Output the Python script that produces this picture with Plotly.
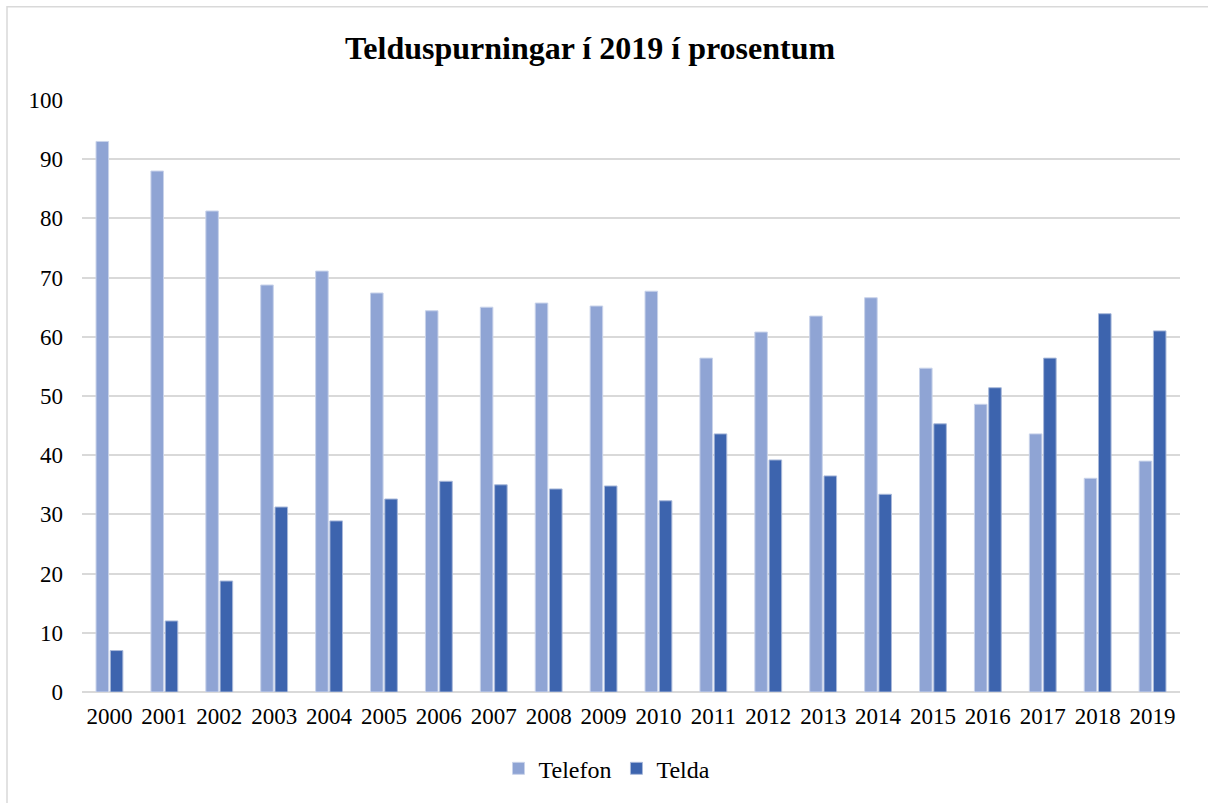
import plotly.graph_objects as go

years = [str(y) for y in range(2000, 2020)]
telefon = [93.0, 88.0, 81.25, 68.75, 71.1, 67.4, 64.4, 65.0, 65.7, 65.2,
           67.7, 56.4, 60.8, 63.5, 66.6, 54.7, 48.6, 43.6, 36.1, 39.0]
telda = [7.0, 12.0, 18.75, 31.25, 28.9, 32.6, 35.6, 35.0, 34.3, 34.8,
         32.3, 43.6, 39.2, 36.5, 33.4, 45.3, 51.4, 56.4, 63.9, 61.0]
y_ticks = list(range(0, 101, 10))

FONT = "Liberation Serif, Times New Roman, serif"

fig = go.Figure()
fig.add_trace(go.Bar(name="Telefon", x=years, y=telefon,
                     marker=dict(color="#8FA4D4", line=dict(color="#C9D3EA", width=1))))
fig.add_trace(go.Bar(name="Telda", x=years, y=telda,
                     marker=dict(color="#3D64AE", line=dict(color="#A9B9DA", width=1))))

W, H = 1208, 803
L, R, T, B = 82, 28, 100, 109
pw, ph = W - L - R, H - T - B

fig.update_layout(
    width=W, height=H,
    margin=dict(l=L, r=R, t=T, b=B),
    paper_bgcolor="white", plot_bgcolor="white",
    barmode="group", bargap=0.48, bargroupgap=0.12,
    font=dict(family=FONT, size=23, color="black"),
    title=dict(text="<b>Telduspurningar í 2019 í prosentum</b>",
               x=(590 - L) / pw, xanchor="center", y=1 - 48 / H, yanchor="middle",
               xref="paper",
               font=dict(family=FONT, size=32, color="black")),
    xaxis=dict(showgrid=False, showline=False, ticks="", ticklabelstandoff=8,
               tickfont=dict(size=23)),
    yaxis=dict(range=[0, 100], tickvals=y_ticks, showgrid=True,
               gridcolor="#D9D9D9", gridwidth=1.5, zeroline=True,
               zerolinecolor="#D9D9D9", zerolinewidth=1.5, showline=False,
               ticks="", ticklabelstandoff=18, tickfont=dict(size=23)),
    legend=dict(orientation="h", x=(607 - L) / pw, xanchor="center",
                y=-(771 - (H - B)) / ph, yanchor="middle", font=dict(size=24),
                itemwidth=30, traceorder="normal"),
    shapes=[dict(type="rect", xref="paper", yref="paper",
                 x0=(7 - L) / pw, x1=(W + 5 - L) / pw,
                 y0=-(H + 5 - (H - B)) / ph, y1=1 + (T - 6.5) / ph,
                 line=dict(color="#D9D9D9", width=1.5), layer="below")],
)

fig.write_html("out.html", config={"displayModeBar": False},
               post_script="document.body.style.margin='0';document.body.style.overflow='hidden';")
